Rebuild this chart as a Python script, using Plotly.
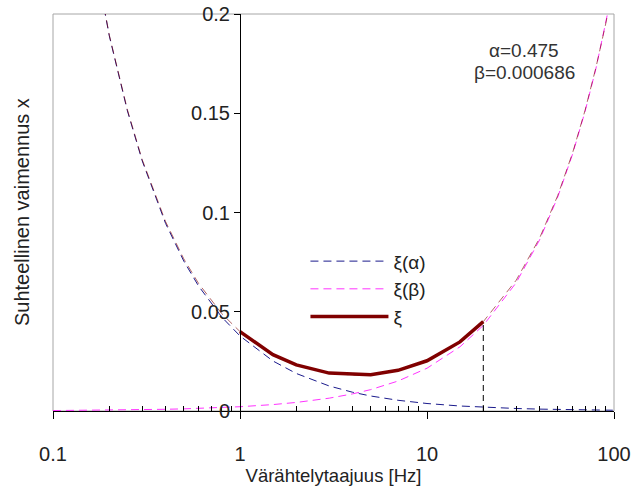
import plotly.graph_objects as go

# Frequencies [Hz] and damping ratios
freq = [0.1, 0.12, 0.15, 0.2, 0.25, 0.3, 0.4, 0.5, 0.6, 0.8, 1, 1.5, 2, 3, 4, 5, 7,
        10, 15, 20, 30, 40, 50, 60, 70, 80, 90, 100]
xi_alpha = [0.378, 0.315, 0.252, 0.189, 0.1512, 0.126, 0.0945, 0.0756, 0.063, 0.04725,
            0.0378, 0.0252, 0.0189, 0.0126, 0.00945, 0.00756, 0.0054, 0.00378, 0.00252,
            0.00189, 0.00126, 0.000945, 0.000756, 0.00063, 0.00054, 0.000473, 0.00042,
            0.000378]
xi_beta = [0.000216, 0.000259, 0.000323, 0.000431, 0.000539, 0.000647, 0.000862, 0.001078,
           0.001293, 0.001724, 0.002155, 0.003233, 0.00431, 0.006465, 0.00862, 0.010776,
           0.015086, 0.021551, 0.032327, 0.043102, 0.064653, 0.086204, 0.107755, 0.129306,
           0.150857, 0.172408, 0.193959, 0.21551]
xi_total = [0.3782, 0.3153, 0.2523, 0.1894, 0.1517, 0.1266, 0.0954, 0.0767, 0.0643, 0.0490,
            0.0400, 0.0284, 0.0232, 0.0191, 0.0181, 0.0183, 0.0205, 0.0253, 0.0348, 0.0450,
            0.0659, 0.0871, 0.1085, 0.1299, 0.1514, 0.1729, 0.1944, 0.2159]

# Solid total over the design range
freq_range = [1, 1.5, 2, 3, 5, 7, 10, 15, 20]
xi_range = [0.0400, 0.0284, 0.0232, 0.0191, 0.0183, 0.0205, 0.0253, 0.0348, 0.0450]

# Marker line at 20 Hz
f_mark = [20, 20]
xi_mark = [0, 0.0450]

x_ticks = [0.1, 1, 10, 100]
x_ticktext = ["0.1", "1", "10", "100"]
x_minor = [0.2, 0.3, 0.4, 0.5, 0.6, 0.7, 0.8, 0.9,
           2, 3, 4, 5, 6, 7, 8, 9,
           20, 30, 40, 50, 60, 70, 80, 90]
y_ticks = [0, 0.05, 0.1, 0.15, 0.2]
y_ticktext = ["0", "0.05", "0.1", "0.15", "0.2"]

FONT = "Liberation Sans, Arial, sans-serif"
DASH = "8px,5px"

fig = go.Figure()
fig.add_trace(go.Scatter(x=freq, y=xi_alpha, mode="lines", name="ξ(α)",
                         line=dict(color="#1a1a8c", width=1, dash=DASH)))
fig.add_trace(go.Scatter(x=freq, y=xi_beta, mode="lines", name="ξ(β)",
                         line=dict(color="#ff33ff", width=1, dash=DASH)))
fig.add_trace(go.Scatter(x=freq, y=xi_total, mode="lines", showlegend=False,
                         line=dict(color="#800000", width=1, dash=DASH), opacity=0.6))
fig.add_trace(go.Scatter(x=freq_range, y=xi_range, mode="lines", name="ξ",
                         line=dict(color="#800000", width=3.5)))
fig.add_trace(go.Scatter(x=f_mark, y=xi_mark, mode="lines", showlegend=False,
                         line=dict(color="black", width=1, dash="6px,4px")))

fig.update_layout(
    width=633, height=488,
    margin=dict(l=53, r=19, t=14, b=77),
    paper_bgcolor="white", plot_bgcolor="white",
    font=dict(family=FONT, size=20, color="#222"),
    legend=dict(x=0.45, y=0.425, xanchor="left", yanchor="top", itemwidth=78,
                bgcolor="rgba(0,0,0,0)", font=dict(size=19)),
    xaxis=dict(type="log", range=[-1, 2], tickvals=x_ticks, ticktext=x_ticktext,
               automargin=False,
               showgrid=False, zeroline=False, showline=True, linecolor="black",
               linewidth=1, ticks="outside", ticklen=7, tickcolor="black",
               ticklabelstandoff=18,
               minor=dict(tickvals=x_minor, ticks="inside", ticklen=5,
                          tickcolor="black", showgrid=False),
               title=dict(text="Värähtelytaajuus [Hz]", font=dict(size=18.5), standoff=0)),
    yaxis=dict(range=[0, 0.2], tickvals=y_ticks, ticktext=y_ticktext,
               anchor="free", position=1/3, automargin=False,
               showgrid=False, zeroline=False,
               showline=True, linecolor="black", linewidth=1,
               ticks="outside", ticklen=6, tickcolor="black"),
    shapes=[dict(type="rect", xref="paper", yref="paper", x0=0, x1=1, y0=0, y1=1,
                 line=dict(color="#a6a6a6", width=1), layer="below")],
    annotations=[
        dict(text="Suhteellinen vaimennus x", xref="paper", yref="paper",
             x=-0.056, y=0.5, xanchor="center", yanchor="middle", textangle=-90,
             showarrow=False, font=dict(size=20, color="#222")),
        dict(text="α=0.475", xref="paper", yref="paper", x=0.84, y=0.908,
             xanchor="center", yanchor="middle",
             showarrow=False, font=dict(size=19, color="#333")),
        dict(text="β=0.000686", xref="paper", yref="paper", x=0.84, y=0.852,
             xanchor="center", yanchor="middle",
             showarrow=False, font=dict(size=19, color="#333")),
    ],
)

fig.write_html("out.html")
